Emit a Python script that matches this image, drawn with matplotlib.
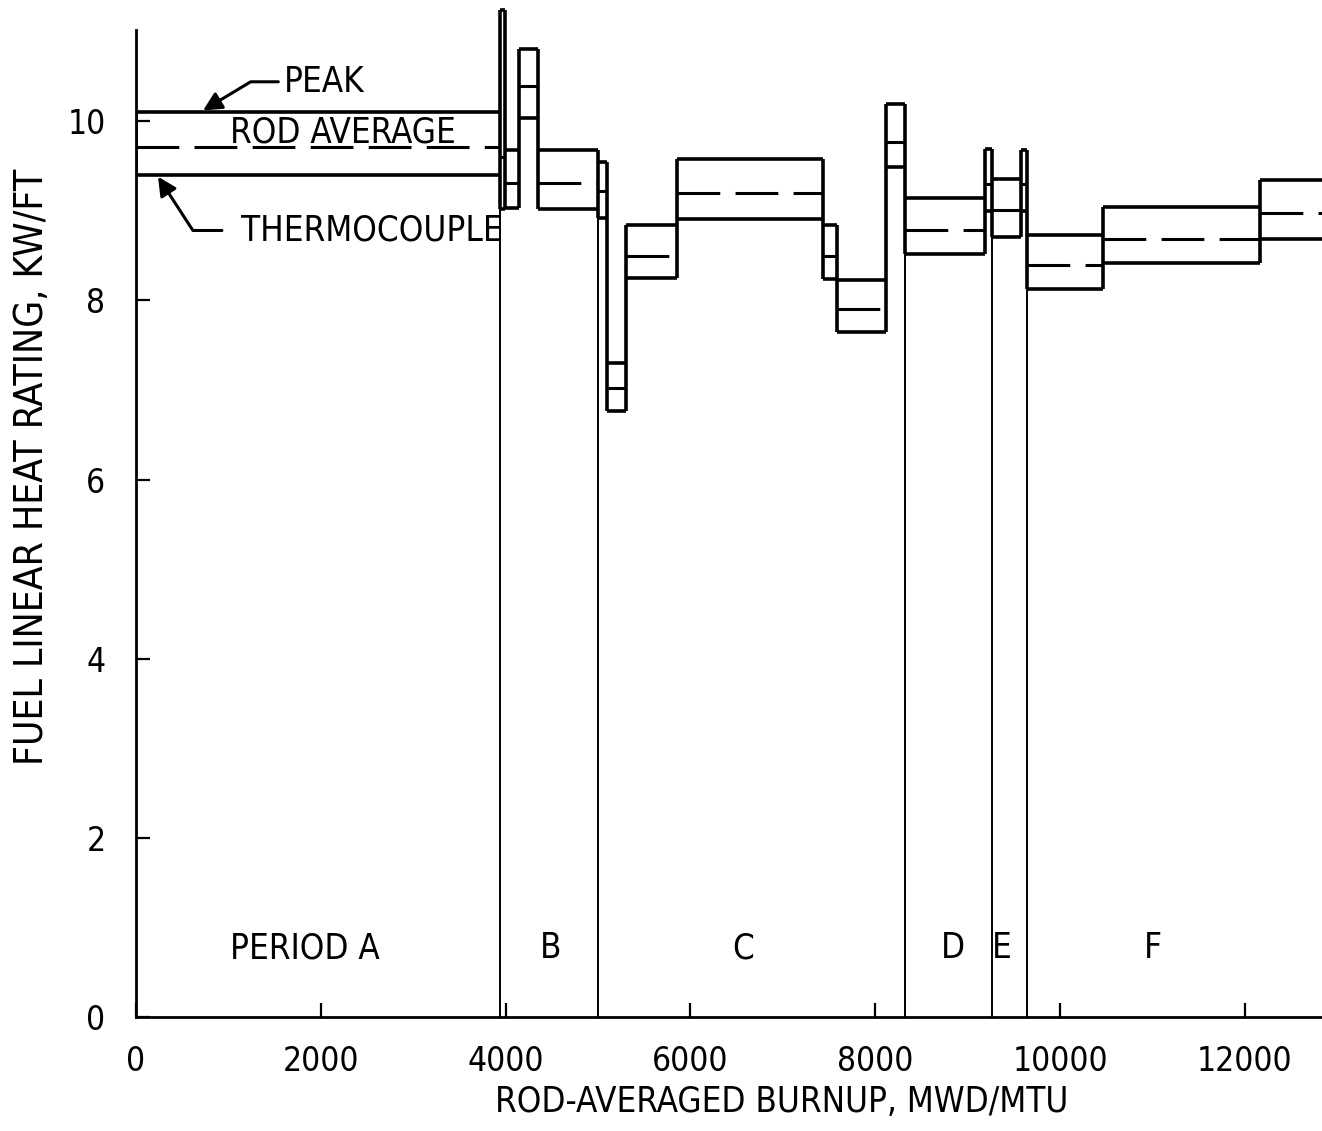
import numpy as np
import matplotlib
matplotlib.use("Agg")
import matplotlib.pyplot as plt
from matplotlib import font_manager as fm

# pick a narrow face if one is installed
narrow = None
for f in fm.fontManager.ttflist:
    if f.name in ('Liberation Sans Narrow', 'DejaVu Sans Condensed'):
        narrow = f.name
        break
if narrow is None:
    for f in fm.fontManager.ttflist:
        if f.name == 'DejaVu Sans' and str(f.stretch) in ('condensed', '300'):
            narrow = 'DejaVu Sans'
            plt.rcParams['font.stretch'] = 'condensed'
            break
plt.rcParams['font.family'] = [narrow or 'DejaVu Sans', 'DejaVu Sans']

# burnup breakpoints (MWD/MTU) and heat rating levels per sub-step (KW/FT)
edges = [0, 3940, 3990, 4145, 4350, 5000, 5095, 5300, 5855, 7435, 7585,
         8115, 8320, 9185, 9265, 9575, 9640, 10465, 12165, 12835]
peak = [10.10, 11.24, 9.68, 10.81, 9.68, 9.54, 7.30, 8.84, 9.58, 8.84,
        8.23, 10.19, 9.14, 9.69, 9.36, 9.68, 8.73, 9.04, 9.34]
rod_avg = [9.71, 9.60, 9.31, 10.39, 9.31, 9.22, 7.02, 8.50, 9.20, 8.50,
           7.90, 9.77, 8.79, 9.30, 9.01, 9.30, 8.39, 8.69, 8.98]
thermo = [9.40, 9.02, 9.03, 10.04, 9.02, 8.92, 6.77, 8.25, 8.91, 8.24,
          7.65, 9.49, 8.52, 9.00, 8.71, 9.00, 8.13, 8.42, 8.68]

# shutdowns between periods
shutdown_x = [3940, 5000, 8320, 9265, 9640]

period_names = ['PERIOD A', 'B', 'C', 'D', 'E', 'F']
period_x = [1830, 4490, 6570, 8840, 9370, 11000]

xticks = [0, 2000, 4000, 6000, 8000, 10000, 12000]
yticks = [0, 2, 4, 6, 8, 10]

fs = 25 if narrow else 23

fig = plt.figure(figsize=(13.22, 11.31), dpi=100)
ax = fig.add_axes([0.1029, 0.1008, 0.8971, 0.8950])

x0 = np.array(edges[:-1])
x1 = np.array(edges[1:])
p = np.array(peak)
a = np.array(rod_avg)
t = np.array(thermo)

lw = 2.6
ax.hlines(p, x0, x1, colors='k', lw=lw, clip_on=False)
ax.hlines(t, x0, x1, colors='k', lw=lw, clip_on=False)
ax.hlines(a, x0, x1, colors='k', lw=2.2, linestyles=(0, (14, 5)))

# box sides
lo = np.minimum(t[:-1], t[1:])
hi = np.maximum(p[:-1], p[1:])
ax.vlines(x1[:-1], lo, hi, colors='k', lw=lw, clip_on=False)
ax.vlines(x0[0], t[0], p[0], colors='k', lw=lw)

# thin shutdown lines down to zero
tops = []
for sx in shutdown_x:
    i = edges.index(sx)
    tops.append(min(thermo[i - 1], thermo[i]))
ax.vlines(shutdown_x, 0, tops, colors='k', lw=1.4)

for name, px in zip(period_names, period_x):
    ax.text(px, 0.77, name, ha='center', va='center', fontsize=fs)

ax.text(2240, 9.87, 'ROD AVERAGE', ha='center', va='center', fontsize=fs)
ax.annotate('PEAK', xy=(725, 10.12), xytext=(1600, 10.44),
            ha='left', va='center', fontsize=fs,
            arrowprops=dict(arrowstyle='-|>', color='k', lw=2.2,
                            mutation_scale=28, shrinkA=2, shrinkB=0,
                            connectionstyle='angle,angleA=0,angleB=31,rad=0'))
ax.annotate('THERMOCOUPLE', xy=(238, 9.38), xytext=(1140, 8.78),
            ha='left', va='center', fontsize=fs,
            arrowprops=dict(arrowstyle='-|>', color='k', lw=2.2,
                            mutation_scale=28, shrinkA=12, shrinkB=0,
                            connectionstyle='angle,angleA=0,angleB=-57,rad=0'))

ax.set_xlim(0, 12835)
ax.set_ylim(0, 11.3)
ax.spines['left'].set_bounds(0, 11.02)
ax.spines['right'].set_visible(False)
ax.spines['top'].set_visible(False)
for s in ('left', 'bottom'):
    ax.spines[s].set_linewidth(2.0)

ax.set_xticks(xticks)
ax.set_yticks(yticks)
ax.set_xticklabels([str(v) for v in xticks])
ax.set_yticklabels([str(v) for v in yticks])
ax.tick_params(direction='in', length=10, width=1.6, labelsize=fs - 1)
ax.tick_params(axis='x', pad=20)
ax.tick_params(axis='y', pad=22)

ax.set_xlabel('ROD-AVERAGED BURNUP, MWD/MTU', fontsize=fs)
ax.xaxis.set_label_coords(0.544, -0.067)
ax.set_ylabel('FUEL LINEAR HEAT RATING, KW/FT', fontsize=fs + 3)
ax.yaxis.set_label_coords(-0.072, 0.543)

fig.savefig('out.png', dpi=100)
